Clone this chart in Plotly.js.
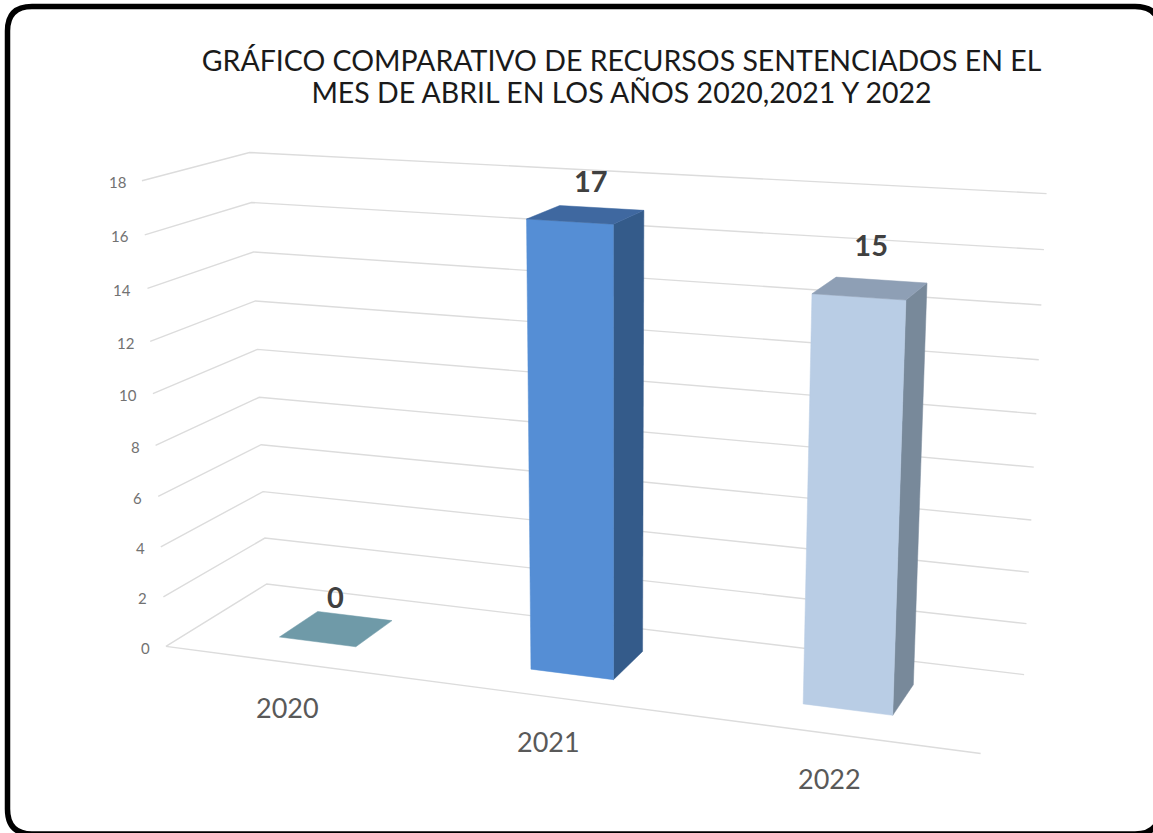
<!DOCTYPE html>
<html><head><meta charset="utf-8">
<script src="https://cdn.plot.ly/plotly-3.0.1.min.js"></script>
<style>html,body{margin:0;padding:0;background:#fff;overflow:hidden}#chart{width:1153px;height:833px}</style>
</head><body><div id="chart"></div>
<script>
// ---- chart data ----
const years = ['2020', '2021', '2022'];
const recursos = [0, 17, 15];
const yTicks = [0, 2, 4, 6, 8, 10, 12, 14, 16, 18];
const titleLines = ['GRÁFICO COMPARATIVO DE RECURSOS SENTENCIADOS EN EL', 'MES DE ABRIL EN LOS AÑOS 2020,2021 Y 2022'];

// ---- 3D view of the chart box: (along, value, depth) -> page pixels ----
const W = 1153, H = 833, YMAX = 18;
const viewAnchors = [
  [0,0,0,166,647],[0,18,0,143,181],[0,0,1,267,585],[0,18,1,248,153],
  [1,0,1,1024,673],[1,18,1,1047,194],[1,0,0,980,755],
  [0,8,1,260,397],[1,8,1,1034,467],[0,8,0,155,443]
];
function solve(A, b) {
  const n = b.length, M = A.map((r, i) => r.concat(b[i]));
  for (let c = 0; c < n; c++) {
    let p = c;
    for (let r = c + 1; r < n; r++) if (Math.abs(M[r][c]) > Math.abs(M[p][c])) p = r;
    [M[c], M[p]] = [M[p], M[c]];
    for (let r = 0; r < n; r++) if (r !== c) {
      const f = M[r][c] / M[c][c];
      for (let k = c; k <= n; k++) M[r][k] -= f * M[c][k];
    }
  }
  return M.map((r, i) => r[n] / r[i]);
}
const cam = (function () {
  const rows = [], rhs = [];
  viewAnchors.forEach(([a, v, d, px, py]) => {
    const X = a, Y = v / YMAX, Z = d, x = px / 1000, y = py / 1000;
    rows.push([X, Y, Z, 1, 0, 0, 0, 0, -x * X, -x * Y, -x * Z]); rhs.push(x);
    rows.push([0, 0, 0, 0, X, Y, Z, 1, -y * X, -y * Y, -y * Z]); rhs.push(y);
  });
  const N = rows[0].length;
  const A = Array.from({ length: N }, (_, i) => Array.from({ length: N }, (_, j) => rows.reduce((s, r) => s + r[i] * r[j], 0)));
  const b = Array.from({ length: N }, (_, i) => rows.reduce((s, r, k) => s + r[i] * rhs[k], 0));
  return solve(A, b);
})();
function project(a, v, d) {
  const Y = v / YMAX, h = cam[8] * a + cam[9] * Y + cam[10] * d + 1;
  return [1000 * (cam[0] * a + cam[1] * Y + cam[2] * d + cam[3]) / h,
          1000 * (cam[4] * a + cam[5] * Y + cam[6] * d + cam[7]) / h];
}

// ---- bar placement inside the box and styling ----
const barCentre = [0.166, 0.4995, 0.833];
const barHalf = 0.052, depthFront = 0.3, depthBack = 0.7;
const labelOffsetX = [-1, 5, 1], labelOffsetY = [-28, -30, -40];
const yearOffsetX = [0, 1, -1];
const frontColor = ['#6f9aa8', '#558ed5', '#b9cde5'];
const sideColor = ['#6f9aa8', '#345b8a', '#78899a'];
const topColor = ['#6f9aa8', '#3f68a0', '#8e9fb5'];
const gridColor = '#dcdcdc';

function poly(pts, color) {
  const c = pts.concat([pts[0]]);
  return { type: 'scatter', mode: 'lines', x: c.map(p => p[0]), y: c.map(p => p[1]), fill: 'toself',
    fillcolor: color, line: { color: color, width: 0.5 }, hoverinfo: 'skip', showlegend: false };
}
const traces = [];
yTicks.forEach(t => {
  const pts = [project(0, t, 0), project(0, t, 1), project(1, t, 1)];
  traces.push({ type: 'scatter', mode: 'lines', x: pts.map(p => p[0]), y: pts.map(p => p[1]),
    line: { color: gridColor, width: 1.4 }, hoverinfo: 'skip', showlegend: false });
});
const fl = [project(0, 0, 0), project(1, 0, 0)];
traces.push({ type: 'scatter', mode: 'lines', x: fl.map(p => p[0]), y: fl.map(p => p[1]),
  line: { color: gridColor, width: 1.4 }, hoverinfo: 'skip', showlegend: false });

recursos.forEach((val, i) => {
  const a0 = barCentre[i] - barHalf, a1 = barCentre[i] + barHalf;
  const d0 = depthFront, d1 = depthBack;
  if (val > 0) {
    traces.push(poly([project(a1, 0, d0), project(a1, 0, d1), project(a1, val, d1), project(a1, val, d0)], sideColor[i]));
    traces.push(poly([project(a0, 0, d0), project(a1, 0, d0), project(a1, val, d0), project(a0, val, d0)], frontColor[i]));
  }
  traces.push(poly([project(a0, val, d0), project(a1, val, d0), project(a1, val, d1), project(a0, val, d1)], topColor[i]));
});

const labelPts = recursos.map((val, i) => project(barCentre[i], val, (depthFront + depthBack) / 2));
traces.push({ type: 'scatter', mode: 'text', x: labelPts.map((p, i) => p[0] + labelOffsetX[i]), y: labelPts.map((p, i) => p[1] + labelOffsetY[i]),
  text: recursos.map(String), textposition: 'middle center',
  textfont: { family: 'Lato, sans-serif', size: 29, color: '#404040', weight: 700 }, hoverinfo: 'skip', showlegend: false });

const annotations = [];
yTicks.forEach(t => {
  const p = project(0, t, 0);
  annotations.push({ x: p[0] - 14, y: p[1] + 1.5, xref: 'x', yref: 'y', text: String(t), showarrow: false,
    xanchor: 'right', yanchor: 'middle', font: { family: 'Lato, sans-serif', size: 15, color: '#727272' } });
});
years.forEach((yr, i) => {
  const p = project(barCentre[i], 0, 0);
  annotations.push({ x: p[0] + yearOffsetX[i], y: p[1] + 45, xref: 'x', yref: 'y', text: yr, showarrow: false,
    xanchor: 'center', yanchor: 'middle', font: { family: 'Lato, sans-serif', size: 27, color: '#595959' } });
});

const layout = {
  width: W, height: H, margin: { l: 0, r: 0, t: 0, b: 0 }, paper_bgcolor: '#fff', plot_bgcolor: '#fff', showlegend: false,
  title: { text: titleLines.join('<br>'), x: 621.5 / W, xanchor: 'center', y: 1 - 69 / H, yanchor: 'middle',
    font: { family: 'Lato, sans-serif', size: 28.5, color: '#1a1a1a' } },
  xaxis: { range: [0, W], visible: false, fixedrange: true },
  yaxis: { range: [H, 0], visible: false, fixedrange: true },
  annotations: annotations,
  shapes: [{ type: 'path', xref: 'x', yref: 'y', line: { color: '#000', width: 5.5 }, fillcolor: 'rgba(0,0,0,0)',
    path: 'M 7.5 31 Q 7.5 6.5 32 6.5 L 1135 6.5 Q 1160 6.5 1160 31 L 1160 809 Q 1160 834 1135 834 L 32 834 Q 7.5 834 7.5 809 Z' }]
};
Plotly.newPlot('chart', traces, layout, { displayModeBar: false, staticPlot: true }).then(() => {
  // the source title is set tighter than Plotly's fixed line height
  const lines = document.querySelectorAll('.gtitle tspan.line');
  if (lines.length === 2) {
    const y0 = parseFloat(lines[0].getAttribute('y'));
    if (isFinite(y0)) {
      lines[0].setAttribute('y', y0 + 1.5);
      lines[1].removeAttribute('dy');
      lines[1].setAttribute('y', y0 + 1.5 + 32);
    }
  }
});
</script></body></html>
